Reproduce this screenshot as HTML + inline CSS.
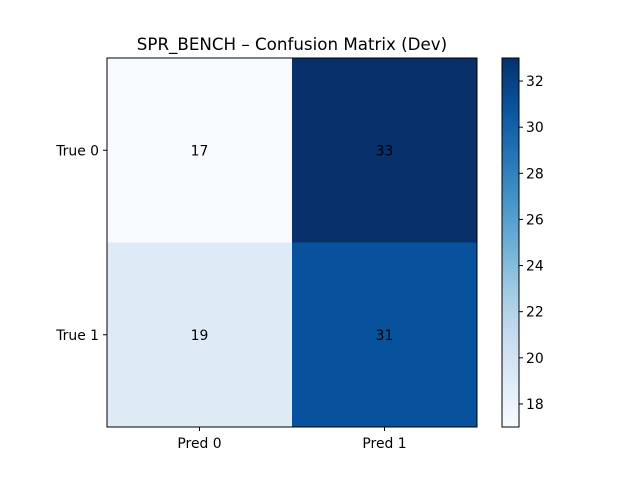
<!DOCTYPE html>
<html><head><meta charset="utf-8"><style>
body{margin:0;background:#fff}
svg{display:block;font-family:"DejaVu Sans","Liberation Sans",sans-serif}
</style></head><body>
<svg id="c" width="640" height="480" viewBox="0 0 640 480">
<rect width="640" height="480" fill="#fff"/>
<text x="292" y="50" text-anchor="middle" font-size="16.7">SPR_BENCH – Confusion Matrix (Dev)</text>
<defs><linearGradient id="g" x1="0" y1="1" x2="0" y2="0">
<stop offset="0" stop-color="#f7fbff"/><stop offset="0.125" stop-color="#deebf7"/><stop offset="0.25" stop-color="#c6dbef"/><stop offset="0.375" stop-color="#9ecae1"/><stop offset="0.5" stop-color="#6baed6"/><stop offset="0.625" stop-color="#4292c6"/><stop offset="0.75" stop-color="#2171b5"/><stop offset="0.875" stop-color="#08519c"/><stop offset="1" stop-color="#08306b"/>
</linearGradient></defs>
</svg>
<script>
const rowLabels=["True 0","True 1"];
const colLabels=["Pred 0","Pred 1"];
const row0=[17,33];
const row1=[19,31];
const cbTicks=[18,20,22,24,26,28,30,32];
const values=[row0,row1];
const NS="http://www.w3.org/2000/svg";
const svg=document.getElementById('c');
const stops=["#f7fbff","#deebf7","#c6dbef","#9ecae1","#6baed6","#4292c6","#2171b5","#08519c","#08306b"];
const flat=values.flat();const vmin=Math.min(...flat),vmax=Math.max(...flat);
function hex(h){return [1,3,5].map(i=>parseInt(h.substr(i,2),16));}
function cmap(v){let t=(v-vmin)/(vmax-vmin||1);t=Math.max(0,Math.min(1,t));const p=t*8;const i=Math.min(7,Math.floor(p));const f=p-i;const a=hex(stops[i]),b=hex(stops[i+1]);return 'rgb('+a.map((x,k)=>Math.round(x+(b[k]-x)*f)).join(',')+')';}
const L=107,T=58,W=370,H=369;
const cw=W/colLabels.length,ch=H/rowLabels.length;
function el(n,a,txt){const e=document.createElementNS(NS,n);for(const k in a)e.setAttribute(k,a[k]);if(txt!==undefined)e.textContent=txt;svg.appendChild(e);return e;}
values.forEach((row,r)=>row.forEach((v,c)=>{
 const rc=el('rect',{x:L+c*cw,y:T+r*ch,width:cw,height:ch,fill:cmap(v)});
 
 
 const t=el('text',{x:L+(c+0.5)*cw,y:T+(r+0.5)*ch+5,'text-anchor':'middle','font-size':'13.9',fill:'#000'},String(v));
 
 
}));
const fr=el('rect',{x:L,y:T,width:W,height:H,fill:'none',stroke:'#000','stroke-width':1});


rowLabels.forEach((s,r)=>{const y=T+(r+0.5)*ch;
 el('line',{x1:L-4,x2:L,y1:y,y2:y,stroke:'#000'});
 const t=el('text',{x:L-8,y:y+5,'text-anchor':'end','font-size':'13.9'},s);
 
 });
colLabels.forEach((s,c)=>{const x=L+(c+0.5)*cw;
 el('line',{x1:x,x2:x,y1:T+H,y2:T+H+4,stroke:'#000'});
 const t=el('text',{x:x,y:T+H+21,'text-anchor':'middle','font-size':'13.9'},s);
 
 });
const CX=502,CW=17;
const cb=el('rect',{x:CX,y:T,width:CW,height:H,fill:'url(#g)',stroke:'#000','stroke-width':1});


cbTicks.forEach(v=>{const y=T+H-(v-vmin)/(vmax-vmin)*H;
 el('line',{x1:CX+CW,x2:CX+CW+4,y1:y,y2:y,stroke:'#000'});
 const t=el('text',{x:CX+CW+7,y:y+5,'font-size':'13.9'},String(v));
 
 });
</script>
</body></html>
